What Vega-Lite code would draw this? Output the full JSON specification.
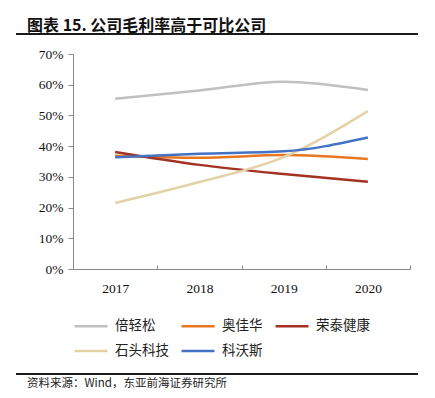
{
  "$schema": "https://vega.github.io/schema/vega-lite/v6.json",
  "background": "white",
  "padding": {"left": 15, "top": 18, "right": 5, "bottom": 5},
  "spacing": 12,
  "columns": 1,
  "align": "none",
  "resolve": {"scale": {"color": "independent"}, "legend": {"color": "independent"}},
  "config": {"view": {"stroke": null}},
  "datasets": {
    "margins": [
      {"year": "2017", "company": "倍轻松", "margin": 0.554},
      {"year": "2018", "company": "倍轻松", "margin": 0.581},
      {"year": "2019", "company": "倍轻松", "margin": 0.610},
      {"year": "2020", "company": "倍轻松", "margin": 0.583},
      {"year": "2017", "company": "奥佳华", "margin": 0.369},
      {"year": "2018", "company": "奥佳华", "margin": 0.362},
      {"year": "2019", "company": "奥佳华", "margin": 0.371},
      {"year": "2020", "company": "奥佳华", "margin": 0.358},
      {"year": "2017", "company": "荣泰健康", "margin": 0.381},
      {"year": "2018", "company": "荣泰健康", "margin": 0.339},
      {"year": "2019", "company": "荣泰健康", "margin": 0.309},
      {"year": "2020", "company": "荣泰健康", "margin": 0.284},
      {"year": "2017", "company": "石头科技", "margin": 0.215},
      {"year": "2018", "company": "石头科技", "margin": 0.283},
      {"year": "2019", "company": "石头科技", "margin": 0.364},
      {"year": "2020", "company": "石头科技", "margin": 0.514},
      {"year": "2017", "company": "科沃斯", "margin": 0.364},
      {"year": "2018", "company": "科沃斯", "margin": 0.375},
      {"year": "2019", "company": "科沃斯", "margin": 0.383},
      {"year": "2020", "company": "科沃斯", "margin": 0.428}
    ],
    "rules": [{"pos": 0}],
    "empty": []
  },
  "concat": [
    {
      "width": 402,
      "height": 1,
      "title": {
        "text": "图表 15. 公司毛利率高于可比公司",
        "anchor": "start",
        "dx": 12,
        "offset": -1,
        "font": "Noto Sans CJK SC",
        "fontSize": 16,
        "fontWeight": "bold",
        "color": "#111111"
      },
      "data": {"name": "rules"},
      "mark": {"type": "rule", "color": "#1a1a1a", "strokeWidth": 2},
      "encoding": {
        "y": {"field": "pos", "type": "quantitative", "axis": null, "scale": {"domain": [0, 1]}}
      }
    },
    {
      "spacing": 0,
      "resolve": {"scale": {"color": "independent"}, "legend": {"color": "independent"}},
      "hconcat": [
        {
          "width": 1,
          "height": 1,
          "data": {"name": "empty"},
          "mark": "point",
          "encoding": {}
        },
        {
          "width": 337,
          "height": 215,
          "data": {"name": "margins"},
          "mark": {"type": "line", "interpolate": "monotone", "strokeWidth": 2.5},
          "encoding": {
            "x": {
              "field": "year",
              "type": "ordinal",
              "title": null,
              "scale": {"paddingInner": 0, "paddingOuter": 0},
              "axis": {
                "labelAngle": 0,
                "labelFont": "Liberation Serif",
                "labelFontSize": 13.5,
                "labelColor": "#111111",
                "labelPadding": 16,
                "domainColor": "#888888",
                "tickColor": "#888888",
                "tickBand": "extent",
                "tickSize": -4,
                "grid": false
              }
            },
            "y": {
              "field": "margin",
              "type": "quantitative",
              "title": null,
              "scale": {"domain": [0, 0.7]},
              "axis": {
                "values": [0, 0.1, 0.2, 0.3, 0.4, 0.5, 0.6, 0.7],
                "format": ".0%",
                "labelFont": "Liberation Serif",
                "labelFontSize": 13.5,
                "labelColor": "#111111",
                "labelPadding": 5,
                "tickSize": 5,
                "domainColor": "#888888",
                "tickColor": "#888888",
                "grid": false,
                "minExtent": 56,
                "maxExtent": 56
              }
            },
            "color": {
              "field": "company",
              "type": "nominal",
              "sort": ["倍轻松", "奥佳华", "荣泰健康", "石头科技", "科沃斯"],
              "scale": {
                "domain": ["倍轻松", "奥佳华", "荣泰健康", "石头科技", "科沃斯"],
                "range": ["#C0C0C0", "#E87722", "#A33222", "#E3D1A8", "#4472C4"]
              },
              "legend": {
                "title": null,
                "orient": "bottom",
                "direction": "horizontal",
                "columns": 3,
                "symbolType": "stroke",
                "symbolSize": 1089,
                "symbolStrokeWidth": 2.5,
                "labelFont": "Noto Sans CJK SC",
                "labelFontSize": 13.5,
                "labelColor": "#222222",
                "labelOffset": 6,
                "columnPadding": 7,
                "rowPadding": -2,
                "offset": 13,
                "padding": 0
              }
            }
          }
        }
      ]
    },
    {
      "width": 402,
      "height": 4,
      "title": {
        "text": "资料来源：Wind，东亚前海证券研究所",
        "orient": "bottom",
        "anchor": "start",
        "dx": 12,
        "offset": 3,
        "font": "Noto Sans CJK SC",
        "fontSize": 11.5,
        "fontWeight": "normal",
        "color": "#222222"
      },
      "data": {"name": "rules"},
      "mark": {"type": "rule", "color": "#1a1a1a", "strokeWidth": 2},
      "encoding": {
        "y": {"field": "pos", "type": "quantitative", "axis": null, "scale": {"domain": [0, 1]}}
      }
    }
  ]
}
